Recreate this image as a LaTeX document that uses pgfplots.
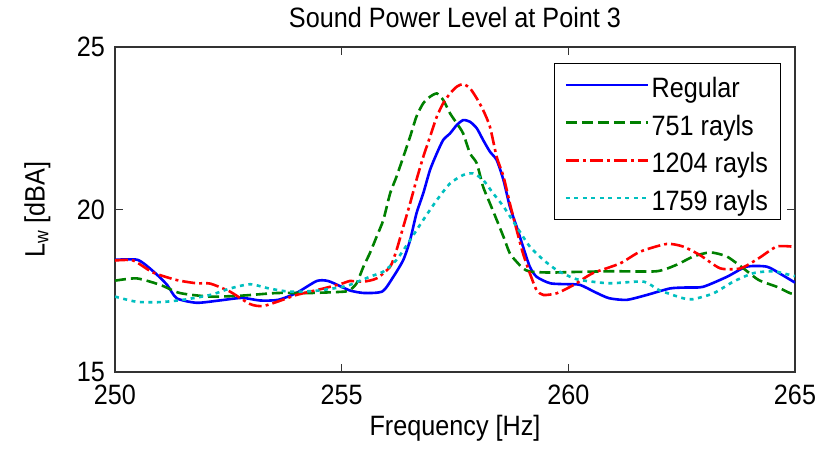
\documentclass[border=0pt]{standalone}
\usepackage{fontspec}
\setmainfont{Liberation Sans}[FakeStretch=0.9]
\usepackage{pgfplots}
\pgfplotsset{compat=1.18}
\definecolor{mblue}{rgb}{0,0,1}
\definecolor{mgreen}{rgb}{0,0.5,0}
\definecolor{mred}{rgb}{1,0,0}
\definecolor{mcyan}{rgb}{0,0.75,0.75}
\begin{document}
\begin{tikzpicture}
\useasboundingbox (-115pt,-77pt) rectangle (710pt,372pt);
\begin{axis}[
  scale only axis, width=680pt, height=325pt,
  xmin=250, xmax=265, ymin=15, ymax=25,
  xtick={250,255,260,265}, ytick={15,20,25},
  minor tick num=0,
  tick align=inside, major tick length=8pt,
  axis line style={line width=1.2pt, black!80},
  every tick/.style={line width=1pt, black!80},
  /pgf/number format/assume math mode=true,
  /pgf/number format/1000 sep={},
  tick label style={font=\fontsize{28}{32}\selectfont},
  xticklabel style={anchor=base, yshift=-33pt},
  yticklabel style={anchor=east, inner xsep=0pt, xshift=-10pt},
  title={Sound Power Level at Point 3},
  title style={anchor=base, yshift=13.5pt, font=\fontsize{28}{32}\selectfont},
  xlabel={Frequency [Hz]},
  xlabel style={at={(0.5,0)}, anchor=base, yshift=-64pt, font=\fontsize{28}{32}\selectfont},
  ylabel={L\textsubscript{w} [dBA]},
  ylabel style={at={(axis description cs:-0.114,0.5)}, anchor=center, font=\fontsize{28}{32}\selectfont},
  legend cell align=left,
  legend image code/.code={\draw[#1, line width=2.6pt] (0pt,0pt) -- (82pt,0pt);},
  legend style={at={(1,1)}, anchor=north east, xshift=-14pt, yshift=-16pt,
    draw=black, line width=1.2pt, inner xsep=10pt, inner ysep=2.4pt,
    font=\fontsize{28}{32}\selectfont,
    nodes={text height=30.6pt, text depth=5.1pt, inner ysep=1pt, inner xsep=2.5pt}},
]
\addplot[mblue, solid, line width=2.6pt, smooth, tension=0.4] table {
250 18.45
250.5 18.45
250.85 18.09
251.15 17.68
251.36 17.27
251.8 17.13
252.3 17.2
252.8 17.28
253.2 17.2
253.6 17.22
254.0 17.43
254.45 17.8
254.7 17.8
255.0 17.62
255.2 17.5
255.5 17.43
255.9 17.48
256.14 17.93
256.36 18.45
256.51 19.06
256.65 19.88
256.8 20.5
256.95 21.22
257.1 21.73
257.24 22.14
257.39 22.34
257.54 22.6
257.68 22.75
257.83 22.7
257.98 22.5
258.12 22.14
258.27 21.78
258.42 21.52
258.57 20.9
258.71 20.09
258.86 19.47
259.0 18.86
259.15 18.24
259.3 17.93
259.6 17.73
260.0 17.7
260.26 17.68
260.6 17.45
260.9 17.27
261.29 17.22
261.73 17.37
262.24 17.57
262.6 17.6
262.97 17.62
263.5 17.93
263.93 18.24
264.38 18.24
264.7 18.0
265 17.75
};
\addlegendentry{Regular}
\addplot[mgreen, line width=2.6pt, smooth, tension=0.4, dash pattern=on 11pt off 5pt] table {
250 17.81
250.48 17.88
251.0 17.68
251.43 17.43
252.1 17.32
252.8 17.35
253.57 17.43
254.3 17.43
255.03 17.47
255.18 17.52
255.33 17.73
255.48 18.24
255.62 18.65
255.77 19.16
255.92 19.68
256.07 20.5
256.21 21.01
256.36 21.62
256.51 22.24
256.65 22.86
256.8 23.27
256.95 23.47
257.1 23.57
257.24 23.37
257.39 22.96
257.54 22.65
257.68 22.34
257.83 21.73
257.98 21.42
258.12 20.7
258.27 20.19
258.42 19.68
258.57 19.16
258.71 18.65
258.86 18.39
259.0 18.19
259.15 18.09
259.6 18.06
260.2 18.08
261.0 18.1
261.95 18.1
262.39 18.3
262.75 18.55
263.13 18.68
263.5 18.55
263.86 18.19
264.2 17.83
264.6 17.62
264.9 17.42
265 17.4
};
\addlegendentry{751 rayls}
\addplot[mred, line width=2.6pt, smooth, tension=0.4, dash pattern=on 13pt off 4pt on 3pt off 4pt] table {
250 18.43
250.4 18.43
250.84 18.06
251.36 17.83
251.8 17.73
252.1 17.72
252.54 17.47
252.98 17.09
253.27 17.03
253.7 17.22
254.0 17.37
254.6 17.57
255.03 17.73
255.18 17.8
255.48 17.78
255.77 17.88
256.07 18.24
256.21 18.75
256.36 19.47
256.51 20.19
256.65 20.91
256.8 21.62
256.95 22.24
257.1 22.86
257.24 23.27
257.39 23.57
257.54 23.78
257.68 23.86
257.83 23.73
257.98 23.42
258.12 23.06
258.27 22.55
258.42 21.62
258.57 21.01
258.71 20.19
258.86 19.37
259.0 18.65
259.15 18.04
259.3 17.52
259.45 17.37
259.74 17.42
260.04 17.62
260.18 17.73
260.54 18.04
261.14 18.34
261.58 18.7
262.17 18.94
262.53 18.86
262.9 18.6
263.35 18.19
263.8 18.19
264.2 18.5
264.6 18.86
265 18.85
};
\addlegendentry{1204 rayls}
\addplot[mcyan, line width=2.6pt, smooth, tension=0.4, dash pattern=on 4pt off 4.5pt] table {
250 17.32
250.48 17.16
251 17.15
251.5 17.22
252.1 17.37
252.54 17.57
252.98 17.7
253.4 17.57
253.86 17.47
254.45 17.5
255.03 17.62
255.18 17.68
255.62 17.93
255.92 18.09
256.21 18.45
256.51 19.06
256.8 19.68
257.1 20.29
257.39 20.8
257.68 21.06
257.9 21.11
258.12 20.91
258.34 20.5
258.57 20.09
258.86 19.47
259.15 18.86
259.45 18.45
259.74 18.14
260.04 17.93
260.26 17.83
260.9 17.73
261.66 17.78
262.0 17.52
262.53 17.27
262.75 17.24
263.2 17.42
263.64 17.78
264.08 18.04
264.52 18.1
264.9 17.98
265 17.95
};
\addlegendentry{1759 rayls}
\end{axis}
\end{tikzpicture}
\end{document}
